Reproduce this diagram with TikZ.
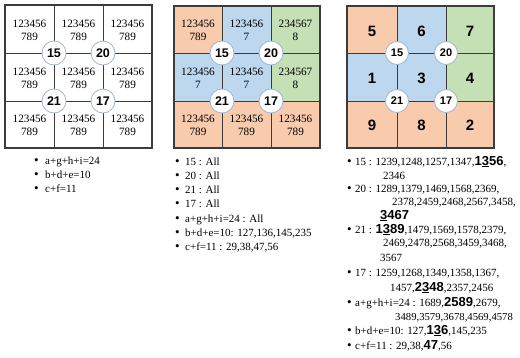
\documentclass[tikz,border=0pt]{standalone}
\usepackage{fontspec}
\setmainfont{Liberation Serif}
\setsansfont{Liberation Sans}
\definecolor{peach}{HTML}{F8CBAD}
\definecolor{sky}{HTML}{BDD7EE}
\definecolor{sage}{HTML}{C5E0B4}
\definecolor{gridline}{HTML}{3C3C3C}
\definecolor{ringline}{HTML}{9DB6D3}
\newcommand{\hl}[1]{{\fontsize{13}{13}\selectfont\sffamily\bfseries #1}}
\newcommand{\blt}{{\fontsize{13}{13}\selectfont •}}
\begin{document}
\begin{tikzpicture}[x=1pt,y=-1pt,
  cell/.style={font=\fontsize{11.2}{13}\selectfont, align=center, inner sep=0},
  big/.style={font=\fontsize{15}{15}\selectfont\sffamily\bfseries, inner sep=0},
  ring/.style={circle, draw=ringline, line width=0.8pt, fill=white, minimum size=24pt, inner sep=0,
    font=\fontsize{12.5}{12.5}\selectfont\sffamily\bfseries},
  ringsm/.style={ring, minimum size=23pt, font=\fontsize{11}{11}\selectfont\sffamily\bfseries},
  item/.style={anchor=base west, inner sep=0, font=\fontsize{11}{11}\selectfont},
  inner/.style={gridline, line width=0.6pt},
  outer/.style={gridline, line width=1.2pt}]
\useasboundingbox (0,0) rectangle (520,357);

% ---------- left grid ----------
\draw[inner] (54,5)--(54,148) (103,5)--(103,148) (5,53)--(152,53) (5,101)--(152,101);
\draw[outer] (5,5) rectangle (152,148);
\foreach \cx/\cy/\nm in {29.5/30/a, 78.5/30/b, 127.5/30/c,
                         29.5/78/d, 78.5/78/e, 127.5/78/f,
                         29.5/125.5/g, 78.5/125.5/h, 127.5/125.5/i}
  \node[cell] (L\nm) at (\cx,\cy) {123456\\789};
\node[ring] (L15) at (54,53) {15};
\node[ring] (L20) at (103,53) {20};
\node[ring] (L21) at (54,101) {21};
\node[ring] (L17) at (103,101) {17};

% ---------- middle grid ----------
\fill[peach] (174,6) rectangle (222,53);
\fill[sky] (222,6) rectangle (271,101);
\fill[sky] (174,53) rectangle (222,101);
\fill[sage] (271,6) rectangle (320,101);
\fill[peach] (174,101) rectangle (320,148);
\draw[inner] (222,6)--(222,148) (271,6)--(271,148) (174,53)--(320,53) (174,101)--(320,101);
\draw[outer] (174,6) rectangle (320,148);
\node[cell] (Ma) at (198,30.5) {123456\\789};
\node[cell] (Mb) at (246.5,30.5) {123456\\7};
\node[cell] (Mc) at (295.5,30.5) {234567\\8};
\node[cell] (Md) at (198,78) {123456\\7};
\node[cell] (Me) at (246.5,78) {123456\\7};
\node[cell] (Mf) at (295.5,78) {234567\\8};
\node[cell] (Mg) at (198,125.5) {123456\\789};
\node[cell] (Mh) at (246.5,125.5) {123456\\789};
\node[cell] (Mi) at (295.5,125.5) {123456\\789};
\node[ring] (M15) at (222,53) {15};
\node[ring] (M20) at (271,53) {20};
\node[ring] (M21) at (222,101) {21};
\node[ring] (M17) at (271,101) {17};

% ---------- right grid ----------
\fill[peach] (347,6) rectangle (397,53);
\fill[sky] (397,6) rectangle (446,101);
\fill[sky] (347,53) rectangle (397,101);
\fill[sage] (446,6) rectangle (494,101);
\fill[peach] (347,101) rectangle (494,148);
\draw[inner] (397,6)--(397,148) (446,6)--(446,148) (347,53)--(494,53) (347,101)--(494,101);
\draw[outer] (347,6) rectangle (494,148);
\node[big] (Ra) at (372,31) {5};
\node[big] (Rb) at (421.5,31) {6};
\node[big] (Rc) at (470,31) {7};
\node[big] (Rd) at (372,78) {1};
\node[big] (Re) at (421.5,78) {3};
\node[big] (Rf) at (470,78) {4};
\node[big] (Rg) at (372,125) {9};
\node[big] (Rh) at (421.5,125) {8};
\node[big] (Ri) at (470,125) {2};
\node[ringsm] (R15) at (397,53) {15};
\node[ringsm] (R20) at (446,53) {20};
\node[ringsm] (R21) at (397,101) {21};
\node[ringsm] (R17) at (446,101) {17};

% ---------- left list ----------
\foreach \y/\t/\nm in {164/{a+g+h+i=24}/1, 178/{b+d+e=10}/2, 192/{c+f=11}/3} {
  \node[item] (Lb\nm) at (34,\y) {\blt};
  \node[item] (Lt\nm) at (45,\y) {\t};
}

% ---------- middle list ----------
\foreach \y/\t/\nm in {165/{15 : All}/1, 179.3/{20 : All}/2, 193.6/{21 : All}/3,
                       207.9/{17 : All}/4, 222.2/{a+g+h+i=24 : All}/5,
                       236.5/{b+d+e=10: 127,136,145,235}/6, 250.8/{c+f=11 : 29,38,47,56}/7} {
  \node[item] (Mb\nm) at (175,\y) {\blt};
  \node[item] (Mt\nm) at (185,\y) {\t};
}

% ---------- right list ----------
\foreach \y/\nm in {165/1, 192/2, 233/3, 276/4, 306/5, 334/6, 349/7}
  \node[item] (Rb\nm) at (347,\y) {\blt};
\node[item] (Rt1) at (355,165) {15 : 1239,1248,1257,1347,\hl{1\underline{3}56},};
\node[item] (Rt1b) at (383,179) {2346};
\node[item] (Rt2) at (355,192) {20 : 1289,1379,1469,1568,2369,};
\node[item] (Rt2b) at (392,205) {2378,2459,2468,2567,3458,};
\node[item] (Rt2c) at (380,219) {\hl{\underline{3}467}};
\node[item] (Rt3) at (355,233) {21 : \hl{1\underline{3}89},1479,1569,1578,2379,};
\node[item] (Rt3b) at (383,246) {2469,2478,2568,3459,3468,};
\node[item] (Rt3c) at (380,261) {3567};
\node[item] (Rt4) at (355,276) {17 : 1259,1268,1349,1358,1367,};
\node[item] (Rt4b) at (390,291) {1457,\hl{2\underline{3}48},2357,2456};
\node[item] (Rt5) at (355,306) {a+g+h+i=24 : 1689,\hl{2589},2679,};
\node[item, font=\fontsize{10.7}{10.7}\selectfont] (Rt5b) at (395,320) {3489,3579,3678,4569,4578};
\node[item] (Rt6) at (355,334) {b+d+e=10: 127,\hl{1\underline{3}6},145,235};
\node[item] (Rt7) at (355,349) {c+f=11 : 29,38,\hl{47},56};
\end{tikzpicture}
\end{document}
